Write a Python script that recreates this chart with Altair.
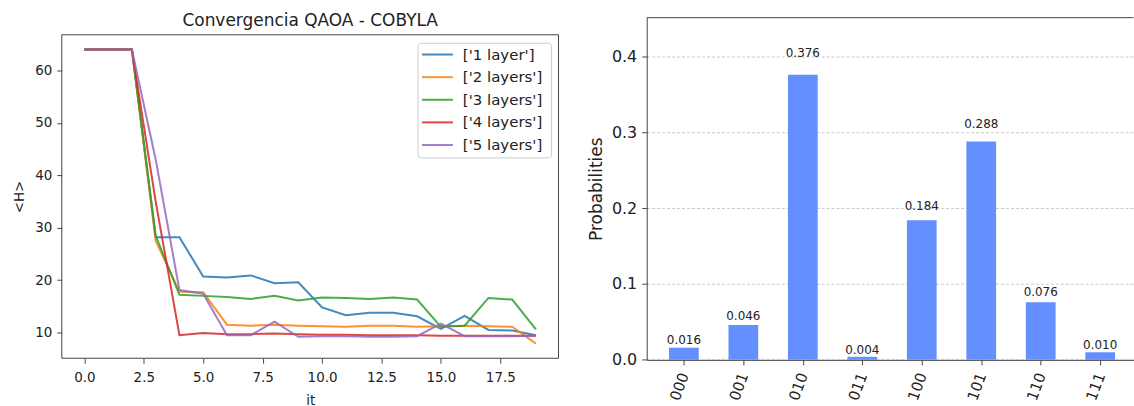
import altair as alt
import pandas as pd

# ---------------- data ----------------
iters = list(range(20))
series_names = ["['1 layer']", "['2 layers']", "['3 layers']", "['4 layers']", "['5 layers']"]
h_1layer = [64, 64, 64, 28.2, 28.2, 20.7, 20.5, 20.9, 19.4, 19.6, 14.8, 13.3, 13.8, 13.8, 13.1, 10.7, 13.2, 10.5, 10.4, 9.5]
h_2layers = [64, 64, 64, 27.5, 17.8, 17.7, 11.5, 11.3, 11.5, 11.3, 11.2, 11.1, 11.3, 11.3, 11.1, 11.2, 11.3, 11.2, 11.1, 7.9]
h_3layers = [64, 64, 64, 28.5, 17.2, 17.0, 16.8, 16.4, 17.0, 16.1, 16.7, 16.6, 16.4, 16.7, 16.3, 11.1, 11.3, 16.6, 16.3, 10.6]
h_4layers = [64, 64, 64, 35.0, 9.5, 9.9, 9.7, 9.7, 9.8, 9.7, 9.6, 9.6, 9.5, 9.5, 9.5, 9.4, 9.4, 9.4, 9.4, 9.4]
h_5layers = [64, 64, 64, 43.0, 18.1, 17.4, 9.5, 9.5, 12.1, 9.2, 9.3, 9.3, 9.2, 9.2, 9.3, 11.7, 9.3, 9.3, 9.3, 9.4]
line_colors = ["#1f77b4", "#ff7f0e", "#2ca02c", "#d62728", "#9467bd"]
left_title = ["Convergencia QAOA - COBYLA"]

x_ticks = [0, 2.5, 5, 7.5, 10, 12.5, 15, 17.5]
y_ticks = [10, 20, 30, 40, 50, 60]

states = ["000", "001", "010", "011", "100", "101", "110", "111"]
probs = [0.016, 0.046, 0.376, 0.004, 0.184, 0.288, 0.076, 0.010]
prob_ticks = [0.0, 0.1, 0.2, 0.3, 0.4]

# ---------------- tables ----------------
rows = []
for name, vals in zip(series_names, [h_1layer, h_2layers, h_3layers, h_4layers, h_5layers]):
    for it, v in zip(iters, vals):
        rows.append({"it": it, "H": v, "serie": name})
df_lines = pd.DataFrame(rows)
df_series = pd.DataFrame({"serie": series_names})
df_bars = pd.DataFrame({"idx": list(range(len(states))), "state": states, "p": probs})

TXT = "#222222"
AX = "#444444"
LW = 498.5
RW = 488.5
GH = 343.4        # right plot height
LH = 341.8        # left group height (bottom of left plot box)
LTOP = 17.2       # left plot box top inside its group

color_scale = alt.Scale(domain=series_names, range=line_colors)

# ---------------- left: convergence ----------------
lines = alt.Chart(df_lines).mark_line(strokeWidth=2, opacity=0.85).encode(
    x=alt.X("it:Q",
            scale=alt.Scale(domain=[-0.95, 19.95], nice=False, zero=False),
            axis=alt.Axis(title="it", values=x_ticks, format=".1f", grid=False,
                          labelFontSize=13.5, titleFontSize=13.5, titleFontWeight="normal",
                          tickSize=5, labelPadding=7, titlePadding=10,
                          domain=False, tickColor=AX, labelColor=TXT, titleColor=TXT)),
    y=alt.Y("H:Q",
            scale=alt.Scale(domain=[5.1, 66.8], nice=False, zero=False, range=[LH, LTOP]),
            axis=alt.Axis(title="<H>", values=y_ticks, format="d", grid=False,
                          labelFontSize=13.5, titleFontSize=13.5, titleFontWeight="normal",
                          tickSize=5, labelPadding=5, titlePadding=8,
                          domain=False, tickColor=AX, labelColor=TXT, titleColor=TXT)),
    color=alt.Color("serie:N", scale=color_scale, legend=None),
)

frame = alt.Chart(pd.DataFrame({"k": [0]})).mark_rect(
    fill=None, stroke=AX, strokeWidth=1).encode(
    x=alt.value(0), x2=alt.value(LW), y=alt.value(LTOP), y2=alt.value(LH))

title_txt = alt.Chart(pd.DataFrame({"t": left_title})).mark_text(
    fontSize=17, baseline="alphabetic", align="center", color=TXT).encode(
    x=alt.value(LW / 2), y=alt.value(LTOP - 8.8), text="t:N")

# legend (box + line samples + labels), entries placed by a point scale
legend_box = alt.Chart(pd.DataFrame({"k": [0]})).mark_rect(
    fill="white", fillOpacity=0.85, stroke="#cccccc", strokeWidth=1, cornerRadius=3).encode(
    x=alt.value(357.5), x2=alt.value(491.5), y=alt.value(LTOP + 8.5), y2=alt.value(LTOP + 123.5))

entry_y = alt.Y("serie:N",
                scale=alt.Scale(type="point", domain=series_names,
                                range=[LTOP + 19.8, LTOP + 110.6], padding=0),
                axis=None)
legend_lines = alt.Chart(df_series).mark_rule(strokeWidth=2, opacity=0.85).encode(
    x=alt.value(361.5), x2=alt.value(392.5), y=entry_y,
    color=alt.Color("serie:N", scale=color_scale, legend=None))
legend_text = alt.Chart(df_series).mark_text(
    fontSize=15, align="left", baseline="middle", color=TXT).encode(
    x=alt.value(402.5), y=entry_y, text="serie:N")

left = alt.layer(lines, frame, legend_box, legend_lines, legend_text, title_txt).resolve_scale(
    y="independent"
).properties(
    width=LW, height=LH,
    view=alt.ViewBackground(stroke=None),
)

# ---------------- right: histogram ----------------
label_expr = "[" + ",".join("'%s'" % s for s in states) + "][datum.value]"
xscale = alt.Scale(domain=[-0.625, 7.56], nice=False, zero=False)
yscale = alt.Scale(domain=[0, 0.4512], nice=False, zero=True)

base = alt.Chart(df_bars).transform_calculate(
    x0="datum.idx - 0.25", x1="datum.idx + 0.25", ty="datum.p * 1.05")

bars = base.mark_bar(color="#648fff").encode(
    x=alt.X("x0:Q", scale=xscale,
            axis=alt.Axis(title=None, values=list(range(len(states))), labelExpr=label_expr,
                          labelAngle=290, labelAlign="right", labelBaseline="middle",
                          labelFontSize=15, labelPadding=8, tickSize=5, grid=False,
                          domainColor=AX, tickColor=AX, labelColor=TXT)),
    x2="x1:Q",
    y=alt.Y("p:Q", scale=yscale,
            axis=alt.Axis(title="Probabilities", values=prob_ticks, format=".1f",
                          grid=True, gridDash=[3, 2], gridColor="#bbbbbb", gridWidth=0.8,
                          labelFontSize=16, titleFontSize=17, titleFontWeight="normal",
                          tickSize=5, labelPadding=5, titlePadding=6,
                          domainColor=AX, tickColor=AX, labelColor=TXT, titleColor=TXT)),
    y2=alt.datum(0),
)

texts = base.mark_text(fontSize=12, baseline="bottom", color=TXT).encode(
    x="idx:Q", y="ty:Q", text=alt.Text("p:Q", format=".3f"))

top_rule = alt.Chart(pd.DataFrame({"k": [0]})).mark_rule(color=AX, strokeWidth=1).encode(
    x=alt.value(0), x2=alt.value(RW), y=alt.value(0))

right = alt.layer(bars, texts, top_rule).properties(
    width=RW, height=GH,
    view=alt.ViewBackground(stroke=None),
)

chart = alt.hconcat(left, right, spacing=28).resolve_scale(
    color="independent"
).properties(
    padding={"left": 12, "top": 11, "right": 0, "bottom": 0},
    background="white",
).configure(
    font="DejaVu Sans"
)

chart.save("out.html", embed_options={"renderer": "svg", "actions": False})
